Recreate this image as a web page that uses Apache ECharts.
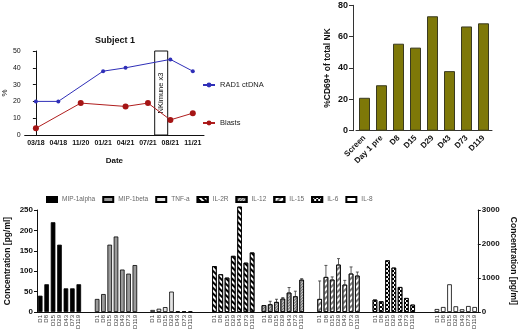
<!DOCTYPE html>
<html>
<head>
<meta charset="utf-8">
<script src="https://cdn.jsdelivr.net/npm/echarts@6/dist/echarts.min.js"></script>
<style>
  html, body { margin: 0; padding: 0; background: #fff; }
  #chart { width: 520px; height: 332px; }
</style>
</head>
<body>
<div id="chart"></div>
<script>
  // top left: subject 1 timeline
  const dates = ['03/18', '04/18', '11/20', '01/21', '04/21', '07/21', '08/21', '11/21']
  const rad1 = [20, 20, null, 38, 40, null, 45, 38]
  const blasts = [4, null, 19, null, 17, 19, 9, 13]

  // top right: CD69+ NK
  const cd69Days = ['Screen', 'Day 1 pre', 'D8', 'D15', 'D29', 'D43', 'D73', 'D119']
  const cd69 = [21, 29, 55.5, 53, 73, 38, 66.5, 68.5]

  // bottom: cytokines
  const days = ['D1', 'D8', 'D15', 'D29', 'D43', 'D73', 'D119']
  const cytokines = ['MIP-1alpha', 'MIP-1beta', 'TNF-a', 'IL-2R', 'IL-12', 'IL-15', 'IL-6', 'IL-8']
  const mip1alpha = [40, 68, 220, 165, 58, 58, 68]
  const mip1beta = [32, 44, 165, 185, 104, 94, 115]
  const tnfa = [5, 8, 12, 50, 2, 2, 2]
  const il2r = [1350, 1110, 1010, 1650, 3100, 1450, 1750]
  const il12 = [200, 226, 295, 393, 570, 462, 950]
  const il12Err = [0, 90, 80, 30, 150, 150, 30]
  const il15 = [383, 1030, 952, 1394, 805, 1130, 1070]
  const il15Err = [530, 340, 80, 176, 125, 195, 105]
  const il6 = [365, 315, 1520, 1305, 735, 412, 217]
  const il8 = [88, 147, 815, 168, 80, 176, 147]

  const FONT = 'Arial, "Liberation Sans", sans-serif'
  const black = '#111'

  // bar looks for each cytokine
  const looks = [
    { color: '#000' },
    { color: '#9a9a9a' },
    { color: '#e4e4e4' },
    { color: '#fff', decal: { symbol: 'rect', symbolSize: 1, dashArrayX: [1, 0], dashArrayY: [2, 2], rotation: Math.PI / 4, color: '#000' } },
    { color: '#d0d0d0', decal: { symbol: 'rect', symbolSize: 1, dashArrayX: [1, 0], dashArrayY: [1, 1], rotation: -Math.PI / 4, color: '#6a6a6a' } },
    { color: '#fff', decal: { symbol: 'rect', symbolSize: 1, dashArrayX: [1, 0], dashArrayY: [2, 2], rotation: -Math.PI / 4, color: '#777' } },
    { color: '#fff', decal: { symbol: 'rect', symbolSize: 1, dashArrayX: [[2, 2], [0, 2, 2, 0]], dashArrayY: [2, 0], color: '#000' } },
    { color: '#fff' }
  ]
  const cytoData = [mip1alpha, mip1beta, tnfa, il2r, il12, il15, il6, il8]
  const groupLeft = [37, 94, 149.5, 211.3, 260.8, 316.5, 371.8, 433.8]

  const grids = [
    { left: 22, top: 51, width: 182, height: 84 },
    { left: 356, top: 5.3, width: 136, height: 125.4 }
  ]
  groupLeft.forEach((l, i) => grids.push({ left: l, top: 210, width: i === 0 ? 45 : 44, height: 102 }))
  grids.push({ left: 37, top: 210, width: 441, height: 102 })

  const xAxes = [
    {
      gridIndex: 0, type: 'category', data: dates,
      name: 'Date', nameLocation: 'middle', nameGap: 22,
      nameTextStyle: { fontFamily: FONT, fontSize: 8, fontWeight: 'bold', color: black },
      axisLine: { lineStyle: { color: black } },
      axisTick: { alignWithLabel: true, length: 3, lineStyle: { color: black } },
      axisLabel: { fontFamily: FONT, fontSize: 7, fontWeight: 'bold', color: black, margin: 5, interval: 0 }
    },
    { gridIndex: 0, type: 'value', min: -0.5, max: 7.5, show: false },
    {
      gridIndex: 1, type: 'category', data: cd69Days,
      axisLine: { lineStyle: { color: '#333' } },
      axisTick: { alignWithLabel: true, length: 4, lineStyle: { color: '#333' } },
      axisLabel: { fontFamily: FONT, fontSize: 8, fontWeight: 'bold', color: black, rotate: 45, margin: 6, interval: 0 }
    }
  ]
  groupLeft.forEach((l, i) => xAxes.push({
    gridIndex: 2 + i, type: 'category', data: days,
    axisLine: { show: false },
    axisTick: { alignWithLabel: true, length: 3, lineStyle: { color: black } },
    axisLabel: { fontFamily: FONT, fontSize: 6, color: '#333', rotate: 90, margin: 3, interval: 0 }
  }))
  xAxes.push({
    gridIndex: 10, type: 'value', min: 0, max: 1,
    axisLine: { show: true, onZero: false, lineStyle: { color: black } },
    axisTick: { show: false }, axisLabel: { show: false }, splitLine: { show: false }
  })

  const yAxes = [
    {
      gridIndex: 0, type: 'value', min: 0, max: 50, interval: 10,
      name: '%', nameLocation: 'middle', nameGap: 14,
      nameTextStyle: { fontFamily: FONT, fontSize: 8, color: black },
      axisLine: { show: true, lineStyle: { color: black } },
      axisTick: { show: true, length: 3, lineStyle: { color: black } },
      axisLabel: { fontFamily: FONT, fontSize: 7, color: black, margin: 4 },
      splitLine: { show: false }
    },
    {
      gridIndex: 1, type: 'value', min: 0, max: 80, interval: 20, offset: 3,
      name: '%CD69+ of total NK', nameLocation: 'middle', nameGap: 21,
      nameTextStyle: { fontFamily: FONT, fontSize: 8.5, fontWeight: 'bold', color: black },
      axisLine: { show: true, lineStyle: { color: '#333' } },
      axisTick: { show: true, length: 4, lineStyle: { color: '#333' } },
      axisLabel: { fontFamily: FONT, fontSize: 9, fontWeight: 'bold', color: black, margin: 5 },
      splitLine: { show: false }
    }
  ]
  groupLeft.forEach((l, i) => {
    const right = i >= 3
    const ax = {
      gridIndex: 2 + i, type: 'value', min: 0,
      max: right ? 3000 : 250, interval: right ? 1000 : 50,
      show: i === 0 || i === 7, splitLine: { show: false }
    }
    if (i === 0 || i === 7) {
      Object.assign(ax, {
        position: i === 0 ? 'left' : 'right',
        name: 'Concentration [pg/ml]', nameLocation: 'middle',
        nameRotate: i === 0 ? 90 : -90, nameGap: i === 0 ? 25 : 31,
        nameTextStyle: { fontFamily: FONT, fontSize: 8.5, fontWeight: 'bold', color: black },
        axisLine: { show: true, lineStyle: { color: black } },
        axisTick: { show: true, length: 3, lineStyle: { color: black } },
        axisLabel: { fontFamily: FONT, fontSize: 8, fontWeight: 'bold', color: black, margin: 4, formatter: v => String(v) }
      })
    }
    yAxes.push(ax)
  })
  yAxes.push({ gridIndex: 10, type: 'value', show: false })

  const series = [
    {
      name: 'RAD1 ctDNA', type: 'line', xAxisIndex: 0, yAxisIndex: 0, data: rad1,
      connectNulls: true, symbol: 'circle', symbolSize: 4,
      lineStyle: { color: '#2f2fb8', width: 1 }, itemStyle: { color: '#2f2fb8' }
    },
    {
      name: 'Blasts', type: 'line', xAxisIndex: 0, yAxisIndex: 0, data: blasts,
      connectNulls: true, symbol: 'circle', symbolSize: 6,
      lineStyle: { color: '#b01e1e', width: 1 }, itemStyle: { color: '#a51515' }
    },
    {
      type: 'line', xAxisIndex: 1, yAxisIndex: 0, data: [], silent: true,
      markArea: {
        silent: true,
        itemStyle: { color: 'rgba(0,0,0,0)', borderColor: black, borderWidth: 1 },
        label: { show: true, position: 'inside', rotate: 90, fontFamily: FONT, fontSize: 7.5, color: black, formatter: 'NKimune x3' },
        data: [[{ xAxis: 5.3, yAxis: 0 }, { xAxis: 5.88, yAxis: 51.8 }]]
      }
    },
    {
      type: 'bar', xAxisIndex: 2, yAxisIndex: 1, data: cd69, barWidth: 11,
      itemStyle: { color: '#7e7808', borderColor: '#3a3a20', borderWidth: 1 }
    }
  ]
  cytokines.forEach((name, i) => series.push({
    name, type: 'bar', xAxisIndex: 3 + i, yAxisIndex: 2 + i,
    data: cytoData[i], barWidth: 4.6, clip: false,
    itemStyle: Object.assign({ borderColor: '#000', borderWidth: 0.8 }, looks[i])
  }))

  // error bars (mean + SD, upper only)
  const errSeries = (idx, vals, errs) => ({
    type: 'custom', xAxisIndex: 3 + idx, yAxisIndex: 2 + idx, silent: true, z: 1,
    data: vals.map((v, k) => [k, v, errs[k]]),
    renderItem: (params, api) => {
      if (!api.value(2)) return null
      const p0 = api.coord([api.value(0), api.value(1)])
      const p1 = api.coord([api.value(0), api.value(1) + api.value(2)])
      const st = { stroke: '#333', lineWidth: 0.8 }
      return {
        type: 'group', children: [
          { type: 'line', shape: { x1: p0[0], y1: p0[1], x2: p1[0], y2: p1[1] }, style: st },
          { type: 'line', shape: { x1: p1[0] - 1.5, y1: p1[1], x2: p1[0] + 1.5, y2: p1[1] }, style: st }
        ]
      }
    }
  })
  series.push(errSeries(4, il12, il12Err))
  series.push(errSeries(5, il15, il15Err))

  const option = {
    animation: false,
    backgroundColor: '#fff',
    title: {
      text: 'Subject 1', left: 90, top: 31,
      textStyle: { fontFamily: FONT, fontSize: 9, fontWeight: 'bold', color: black }
    },
    legend: [
      {
        data: ['RAD1 ctDNA', 'Blasts'], orient: 'vertical', left: 197, top: 76, itemGap: 30,
        itemWidth: 12, itemHeight: 6,
        textStyle: { fontFamily: FONT, fontSize: 7.5, color: '#222' }
      },
      {
        data: cytokines, orient: 'horizontal', left: 41, top: 191, itemGap: 7,
        itemWidth: 10, itemHeight: 5, icon: 'rect',
        textStyle: { fontFamily: FONT, fontSize: 6.5, color: '#666', width: 34 }
      }
    ],
    grid: grids,
    xAxis: xAxes,
    yAxis: yAxes,
    series
  }

  const chart = echarts.init(document.getElementById('chart'), null, { renderer: 'canvas' })
  chart.setOption(option)
</script>
</body>
</html>
